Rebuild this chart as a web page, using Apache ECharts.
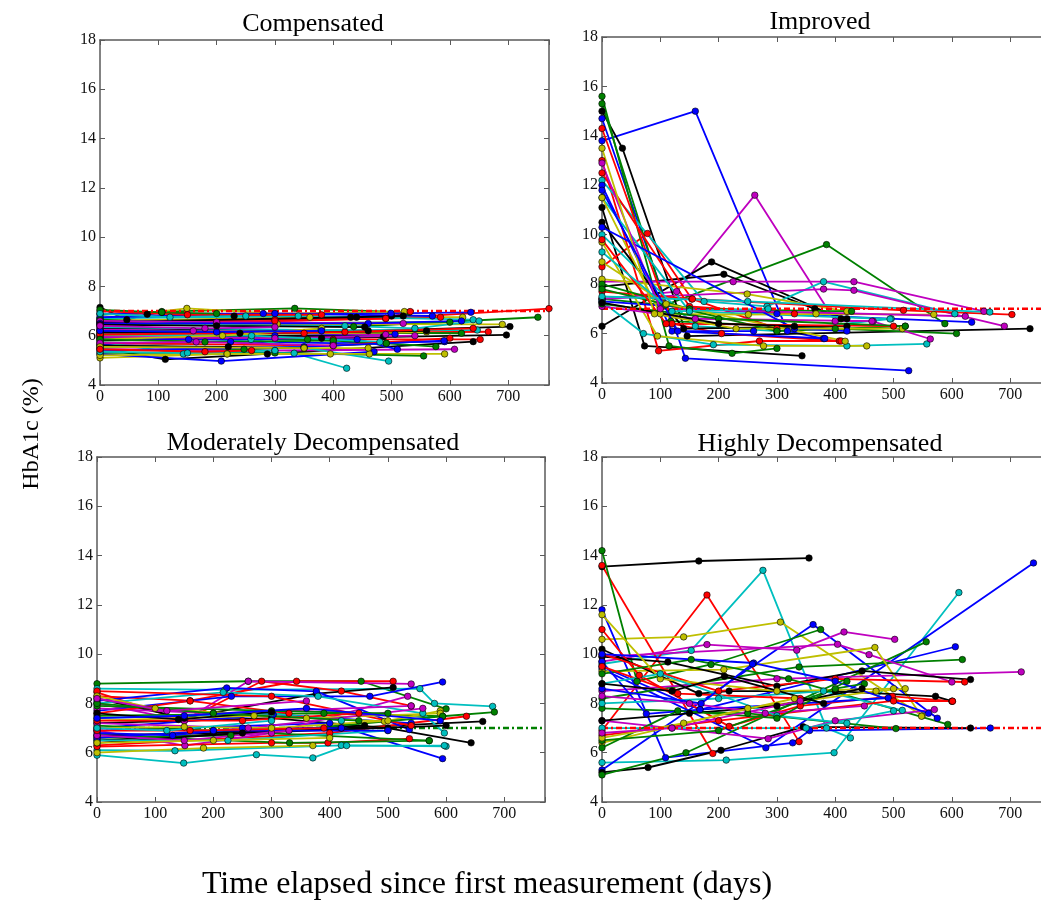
<!DOCTYPE html>
<html><head><meta charset="utf-8">
<script src="https://cdn.jsdelivr.net/npm/echarts@6/dist/echarts.min.js"></script>
<style>html,body{margin:0;padding:0;background:#fff}#c{width:1041px;height:901px}</style>
</head><body><div id="c"></div>
<script>
// ---------------- data ----------------
const panelTitles = ['Compensated', 'Improved', 'Moderately Decompensated', 'Highly Decompensated'];
const xTicks = [0, 100, 200, 300, 400, 500, 600, 700];
const yTicks = [4, 6, 8, 10, 12, 14, 16, 18];
const targetValue = 7;

const compensatedLines = [
  [[0,7.15],[46,6.65],[81,6.87],[106,6.95],[230,6.8],[440,6.75],[500,6.8]],
  [[0,6.85],[106,6.98],[334,7.11],[530,6.95]],
  [[0,6.7],[149,7.11],[300,6.9],[522,6.98]],
  [[0,6.6],[300,6.65],[490,6.7],[770,7.1]],
  [[0,6.5],[435,6.37],[751,6.75]],
  [[0,6.3],[460,6.2],[703,6.37]],
  [[0,5.8],[380,5.9],[697,6.03]],
  [[0,6.45],[304,6.48],[690,6.46]],
  [[0,5.5],[112,5.04],[287,5.26],[640,5.76]],
  [[0,5.9],[400,5.85],[652,5.85]],
  [[0,6.2],[350,6.1],[666,6.16]],
  [[0,6.35],[379,6.23],[647,6.23]],
  [[0,6.9],[280,6.9],[499,6.91],[636,6.95]],
  [[0,6.6],[360,6.75],[622,6.75]],
  [[0,5.45],[300,5.4],[608,5.45]],
  [[0,5.1],[218,5.26],[395,5.26],[591,5.26]],
  [[0,5.65],[224,5.76],[400,5.7],[591,5.76]],
  [[0,5.6],[247,5.45],[491,5.69],[576,5.56]],
  [[0,5.3],[300,5.3],[555,5.18]],
  [[0,6.55],[300,6.6],[584,6.75]],
  [[0,5.75],[143,5.26],[333,5.29],[423,4.68]],
  [[0,5.5],[259,5.85],[495,4.97]],
  [[0,5.25],[208,4.97],[470,5.35]],
  [[0,5.9],[152,5.85],[441,5.85],[510,5.45]],
  [[0,5.2],[218,5.26],[462,5.26]],
  [[0,6.1],[356,5.85],[491,5.69]],
  [[0,6.0],[300,6.0],[506,6.06]],
  [[0,6.05],[486,5.96]],
  [[0,6.25],[160,6.2],[490,6.05]],
  [[0,6.7],[340,6.8],[640,6.65]],
  [[0,6.4],[490,6.7],[532,6.98]],
  [[0,6.75],[300,6.9],[570,6.8]],
  [[0,6.2],[620,6.1]],
  [[0,6.55],[430,6.75],[520,6.8]],
  [[0,6.0],[560,6.15]],
  [[0,5.95],[300,5.9],[540,6.0]],
  [[0,6.05],[260,6.0],[480,5.75]],
  [[0,5.7],[400,5.6],[600,5.9]],
  [[0,5.4],[350,5.55],[590,5.8]],
  [[0,6.65],[200,6.5],[600,6.55]],
  [[0,6.15],[240,6.1],[560,6.2]],
  [[0,6.05],[420,6.15],[640,6.3]],
  [[0,6.45],[420,6.4],[540,6.3],[650,6.6]],
  [[0,6.6],[200,6.55],[520,6.5]],
  [[0,5.85],[210,6.0],[380,6.3]],
  [[0,6.5],[460,6.5],[620,6.6]],
  [[0,7.0],[150,6.85],[380,6.85]],
  [[0,5.85],[180,5.75],[400,5.8]],
  [[0,5.6],[220,5.55],[350,5.5]],
  [[0,5.7],[165,5.75],[400,5.6]],
  [[0,5.35],[150,5.3],[300,5.4]],
  [[0,5.55],[350,5.5],[460,5.5]],
  [[0,6.2],[200,6.15],[380,6.2]],
  [[0,5.45],[180,5.35],[260,5.4]],
  [[0,7.05],[106,6.95],[200,6.9]],
  [[0,6.45],[200,6.4],[454,6.35]],
  [[0,6.9],[120,6.75],[250,6.8]],
  [[0,6.4],[180,6.3],[300,6.35]]
];
const compensatedColors = 'kgyrgkkykrrcbymybggrccbbygbkmcrbgkymcrbgkrcmybrgkmcybrgkcm';

const improvedLines = [
  [[0,13.8],[160,15.0],[318,6.1],[380,5.8]],
  [[0,7.4],[128,7.7],[262,11.6],[400,6.5],[465,6.5]],
  [[0,7.4],[108,7.15],[385,9.6],[588,6.4]],
  [[0,6.3],[188,8.9],[410,6.6]],
  [[0,7.9],[209,8.4],[365,7.0],[420,6.6]],
  [[0,15.0],[35,13.5],[146,5.9],[734,6.2]],
  [[0,11.1],[73,5.5],[343,5.1]],
  [[0,8.7],[78,10.05],[154,7.4],[300,6.2]],
  [[0,13.0],[97,5.3],[270,5.7],[407,5.7]],
  [[0,14.7],[143,5.0],[526,4.5]],
  [[0,15.6],[115,5.5],[223,5.2],[300,5.4]],
  [[0,15.3],[118,6.5],[400,6.2],[608,6.0]],
  [[0,12.2],[175,7.3],[283,7.1],[380,8.1],[605,6.8]],
  [[0,8.1],[225,8.1],[432,8.1],[655,6.9]],
  [[0,7.4],[380,7.8],[432,7.75],[690,6.3]],
  [[0,8.2],[249,7.6],[420,6.9]],
  [[0,7.7],[155,7.4],[517,6.94],[703,6.77]],
  [[0,7.3],[300,6.8],[634,6.46]],
  [[0,7.3],[71,6.0],[191,5.55],[420,5.5],[557,5.58]],
  [[0,14.3],[120,6.4],[205,6.0],[410,5.7]],
  [[0,12.0],[120,6.1],[382,5.8]],
  [[0,9.7],[95,5.9],[277,5.5],[454,5.5]],
  [[0,10.0],[160,6.3],[300,6.1],[496,6.6]],
  [[0,12.5],[150,7.1],[330,6.8]],
  [[0,10.5],[140,6.2],[420,6.3]],
  [[0,8.0],[150,7.0],[428,6.9]],
  [[0,11.5],[150,6.9],[494,6.59]],
  [[0,11.5],[100,6.8],[251,6.77],[367,6.8],[569,6.77]],
  [[0,7.8],[300,6.1],[520,6.3]],
  [[0,7.1],[160,6.6],[463,6.5],[563,5.78]],
  [[0,10.3],[330,6.2],[420,6.1]],
  [[0,8.9],[110,7.2],[417,5.69]],
  [[0,7.5],[250,7.3],[665,6.87]],
  [[0,12.9],[100,7.0],[623,6.7]],
  [[0,9.8],[110,6.4],[500,6.3]],
  [[0,13.5],[90,6.8],[230,6.2],[515,6.2]],
  [[0,7.2],[200,6.6],[520,6.3]],
  [[0,11.8],[130,6.1],[260,6.1]],
  [[0,7.25],[200,6.4],[330,6.3]],
  [[0,9.3],[120,6.9],[285,7.0]]
];
const improvedColors = 'bmgkkkkrrbggcmmyrbcrbycrkgcygmbycmrygbkc';

const moderateLines = [
  [[0,8.8],[260,8.9],[454,8.9],[600,7.78]],
  [[0,8.6],[220,8.55],[555,8.6],[580,8.0],[680,7.88]],
  [[0,8.3],[160,8.11],[343,8.9],[509,8.9]],
  [[0,8.45],[150,7.3],[283,8.9],[420,8.5],[540,7.9]],
  [[0,8.0],[150,7.3],[260,8.9],[540,8.79]],
  [[0,7.7],[231,8.29],[469,8.29],[594,8.87]],
  [[0,8.2],[150,7.4],[377,8.4],[509,8.65]],
  [[0,7.5],[390,7.6],[594,7.48],[683,7.65]],
  [[0,6.5],[420,7.0],[663,7.27]],
  [[0,6.3],[400,6.8],[635,7.48]],
  [[0,7.2],[300,7.4],[500,7.0],[643,6.4]],
  [[0,6.9],[400,7.2],[594,5.76]],
  [[0,6.1],[134,6.08],[420,6.3],[600,6.26]],
  [[0,5.9],[149,5.58],[274,5.92],[371,5.79],[429,6.29],[597,6.29]],
  [[0,6.0],[183,6.19],[371,6.29]],
  [[0,6.9],[151,6.29],[300,6.8],[534,8.29]],
  [[0,6.25],[300,6.4],[397,6.4],[537,6.57]],
  [[0,6.7],[331,6.4],[571,6.49]],
  [[0,8.1],[223,8.63],[377,8.49],[537,6.94]],
  [[0,8.0],[217,8.45],[380,8.29],[560,7.6],[597,6.8]],
  [[0,7.0],[303,7.55],[540,7.2]],
  [[0,7.3],[270,7.5],[494,7.27],[590,7.7]],
  [[0,7.1],[200,6.9],[571,6.49]],
  [[0,8.5],[300,8.29],[540,7.1]],
  [[0,7.8],[200,7.6],[540,7.9]],
  [[0,8.3],[100,7.8],[360,7.4],[590,7.6]],
  [[0,6.7],[200,6.8],[460,7.1]],
  [[0,6.6],[230,6.7],[594,7.48]],
  [[0,7.4],[300,7.6],[420,7.3]],
  [[0,6.8],[130,6.7],[250,7.0],[420,7.0]],
  [[0,7.6],[160,8.1],[330,7.6]],
  [[0,7.2],[260,7.0],[560,7.8]],
  [[0,7.0],[150,7.05],[300,7.0],[500,7.3]],
  [[0,6.4],[250,6.8],[600,7.1]],
  [[0,7.9],[300,7.7],[500,7.6]],
  [[0,6.5],[225,6.5],[500,6.9]],
  [[0,6.6],[200,6.9],[500,6.9]],
  [[0,7.3],[250,7.3],[450,7.6]],
  [[0,6.7],[150,6.5],[330,6.9]],
  [[0,6.4],[200,6.5],[400,6.6]],
  [[0,7.6],[140,7.35],[300,7.65]],
  [[0,8.0],[200,7.6],[450,7.3]],
  [[0,7.4],[150,7.5],[360,7.8],[590,7.3]],
  [[0,6.9],[160,6.9],[390,7.0]],
  [[0,8.2],[120,7.7],[360,8.1]],
  [[0,7.0],[120,6.9],[300,7.3]]
];
const moderateColors = 'gcrrmbkgkrkbccymrgbcbygrmykgcbrmykgcbrmykgbrmc';

const highlyLines = [
  [[0,13.55],[166,13.78],[355,13.9]],
  [[0,9.6],[153,10.15],[276,13.4],[385,7.0],[426,6.6]],
  [[0,13.6],[190,5.97]],
  [[0,6.9],[180,12.4],[338,6.45]],
  [[0,10.6],[140,10.7],[306,11.3],[549,7.5]],
  [[0,5.6],[213,5.7],[398,6.0],[612,12.5]],
  [[0,9.4],[281,6.2],[740,13.7]],
  [[0,5.3],[362,11.2],[575,7.4]],
  [[0,11.8],[109,5.8],[327,6.4],[356,6.9],[666,7.0]],
  [[0,5.2],[79,5.4],[204,6.1],[345,7.05],[632,7.0]],
  [[0,9.5],[168,7.75],[606,10.3]],
  [[0,14.2],[60,8.9],[187,9.58],[375,11.0]],
  [[0,5.1],[144,6.0],[556,10.5]],
  [[0,8.2],[338,9.48],[618,9.78]],
  [[0,9.7],[180,10.39],[334,10.16],[415,10.9],[502,10.6]],
  [[0,8.5],[300,9.0],[719,9.28]],
  [[0,9.9],[404,10.4],[458,9.98],[600,8.87]],
  [[0,9.3],[209,9.37],[468,10.27],[548,7.48]],
  [[0,9.9],[113,9.68],[300,8.7],[446,9.32],[632,8.97]],
  [[0,11.0],[64,9.14],[218,7.07],[340,7.9],[498,8.29],[601,8.09]],
  [[0,10.2],[166,8.4],[218,8.5],[400,8.5],[572,8.29],[600,8.09]],
  [[0,10.0],[200,8.5],[400,9.0],[622,8.87]],
  [[0,9.2],[153,9.78],[320,9.0],[593,7.15]],
  [[0,7.8],[250,7.6],[504,6.98]],
  [[0,9.7],[76,7.58],[168,7.75],[491,8.22]],
  [[0,8.0],[200,8.2],[380,8.5],[515,7.72]],
  [[0,7.3],[285,6.57],[400,7.3],[570,7.75]],
  [[0,6.4],[250,7.8],[470,8.5],[520,8.6]],
  [[0,6.7],[200,7.3],[500,8.1],[601,8.09]],
  [[0,7.0],[120,7.0],[350,7.0],[500,7.7]],
  [[0,6.5],[200,6.9],[400,8.6],[450,8.8]],
  [[0,10.0],[260,9.64],[400,8.9],[560,7.6]],
  [[0,11.6],[100,9.0],[300,8.5],[500,8.6]],
  [[0,7.3],[150,7.6],[300,7.9],[446,8.6]],
  [[0,8.3],[150,8.0],[280,7.6],[450,7.9]],
  [[0,9.5],[130,8.4],[340,8.2]],
  [[0,8.8],[100,9.2],[300,7.5],[420,7.2]],
  [[0,6.2],[130,7.7],[300,7.4],[420,8.9]],
  [[0,6.6],[140,7.2],[330,8.2]],
  [[0,6.8],[120,7.0],[340,8.1]],
  [[0,8.6],[170,8.0],[258,9.6]],
  [[0,8.8],[120,8.5],[210,9.1],[380,8.0]]
];
const highlyColors = 'kcrrycbbbkbgggmmmykrkrggbcmyrcgbykmrcgymbk';

// ---------------- styling / layout ----------------
const palette = {b:'#0000ff', g:'#008000', r:'#ff0000', c:'#00bfbf', m:'#bf00bf', y:'#bfbf00', k:'#000000'};
const cycle = 'bgrcmyk';
const FONT = '"Liberation Serif", "DejaVu Serif", serif';
const panels = [
  {lines: compensatedLines, colors: compensatedColors, grid: {left:100, top:40, width:449, height:345}, target:'#ff0000', targetOnTop:true, title:[313,24]},
  {lines: improvedLines, colors: improvedColors, grid: {left:602, top:37, width:449, height:346}, target:'#ff0000', targetOnTop:true, title:[820,22]},
  {lines: moderateLines, colors: moderateColors, grid: {left:97, top:457, width:448, height:345}, target:'#008000', targetOnTop:false, title:[313,443]},
  {lines: highlyLines, colors: highlyColors, grid: {left:602, top:457, width:449, height:345}, target:'#ff0000', targetOnTop:true, title:[820,444]}
];
const XMAX = 770;
const frame = {color:'#5a5a5a', width:1.5};

const grids = [], xAxes = [], yAxes = [], series = [], graphics = [];
panels.forEach((p, i) => {
  grids.push(Object.assign({containLabel:false, outerBoundsMode:'none'}, p.grid));
  const xBase = {gridIndex:i, type:'value', min:0, max:XMAX, interval:100, splitLine:{show:false},
    axisLine:{show:true, onZero:false, lineStyle:frame}, axisTick:{show:true, inside:true, length:5, lineStyle:{color:frame.color, width:1}}};
  xAxes.push(Object.assign({}, xBase, {position:'bottom',
    axisLabel:{show:true, fontFamily:FONT, fontSize:16, color:'#111', margin:4,
      formatter: v => xTicks.indexOf(v) >= 0 ? String(v) : ''}}));
  xAxes.push(Object.assign({}, xBase, {position:'top', axisLabel:{show:false}}));
  const yBase = {gridIndex:i, type:'value', min:4, max:18, interval:2, splitLine:{show:false},
    axisLine:{show:true, onZero:false, lineStyle:frame}, axisTick:{show:true, inside:true, length:5, lineStyle:{color:frame.color, width:1}}};
  yAxes.push(Object.assign({}, yBase, {position:'left',
    axisLabel:{show:true, fontFamily:FONT, fontSize:16, color:'#111', margin:4,
      formatter: v => yTicks.indexOf(v) >= 0 ? String(v) : ''}}));
  yAxes.push(Object.assign({}, yBase, {position:'right', axisLabel:{show:false}}));

  const targetSeries = {type:'line', xAxisIndex:i*2, yAxisIndex:i*2, data:[[0,targetValue],[XMAX,targetValue]],
    symbol:'none', silent:true, lineStyle:{color:p.target, width:2.5, type:[6,3,2,3]}, animation:false};
  if (!p.targetOnTop) series.push(targetSeries);
  p.lines.forEach((ln, j) => {
    const col = palette[p.colors[j] || cycle[j % 7]];
    series.push({type:'line', xAxisIndex:i*2, yAxisIndex:i*2, data:ln, symbol:'circle', symbolSize:6.5,
      showAllSymbol:true, clip:true, animation:false,
      lineStyle:{color:col, width:1.8}, itemStyle:{color:col, borderColor:'#000', borderWidth:0.6}});
  });
  if (p.targetOnTop) series.push(targetSeries);

  graphics.push({type:'text', x:p.title[0], y:p.title[1],
    style:{text:panelTitles[i], fontFamily:FONT, fontSize:26, fill:'#000', textAlign:'center', textVerticalAlign:'middle'}});
});

graphics.push({type:'text', x:32, y:434, rotation:Math.PI/2,
  style:{text:'HbA1c (%)', fontFamily:FONT, fontSize:24, fill:'#000', textAlign:'center', textVerticalAlign:'middle'}});
graphics.push({type:'text', x:487, y:885,
  style:{text:'Time elapsed since first measurement (days)', fontFamily:FONT, fontSize:32, fill:'#000', textAlign:'center', textVerticalAlign:'middle'}});

const chart = echarts.init(document.getElementById('c'));
chart.setOption({animation:false, backgroundColor:'#fff', grid:grids, xAxis:xAxes, yAxis:yAxes, series:series, graphic:graphics});
</script></body></html>
